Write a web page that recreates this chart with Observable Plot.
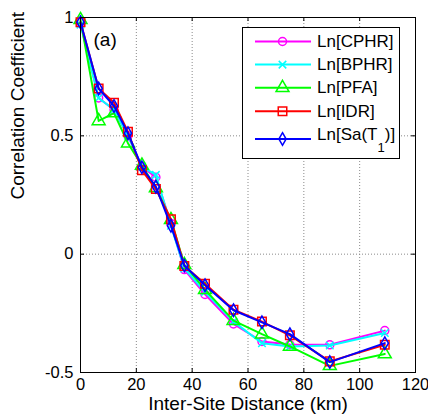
<!DOCTYPE html>
<html><head><meta charset="utf-8">
<script src="https://cdn.jsdelivr.net/npm/d3@7"></script>
<script src="https://cdn.jsdelivr.net/npm/@observablehq/plot@0.6"></script>
<style>
body{margin:0;background:#fff;}
#chart{width:428px;height:420px;}
</style>
</head><body><div id="chart"></div>
<script>
// ---- data ----
const distance = [0, 6.5, 12, 17, 22, 27, 32.4, 37.2, 44.6, 54.8, 65, 75, 89.3, 109];
const cphr = [0.98, 0.66, 0.61, 0.50, 0.37, 0.325, 0.13, -0.065, -0.17, -0.295, -0.369, -0.382, -0.383, -0.323];
const bphr = [0.97, 0.66, 0.61, 0.50, 0.37, 0.335, 0.12, -0.06, -0.16, -0.285, -0.376, -0.39, -0.386, -0.333];
const pfa  = [0.99, 0.563, 0.596, 0.469, 0.375, 0.28, 0.145, -0.045, -0.15, -0.281, -0.338, -0.39, -0.472, -0.422];
const idr  = [0.98, 0.70, 0.64, 0.517, 0.355, 0.275, 0.148, -0.05, -0.125, -0.235, -0.285, -0.343, -0.453, -0.383];
const sa   = [0.98, 0.70, 0.626, 0.511, 0.367, 0.285, 0.12, -0.048, -0.131, -0.237, -0.288, -0.338, -0.456, -0.376];
const seriesNames = ["Ln[CPHR]", "Ln[BPHR]", "Ln[PFA]", "Ln[IDR]", "Ln[Sa(T1)]"];
const seriesValues = [cphr, bphr, pfa, idr, sa];
const seriesColors = ["#ff00ff", "#00ffff", "#00ff00", "#ff0000", "#0000ff"];
const seriesSymbols = ["circle", "times", "triangle", "square", "diamond"];
const seriesR = [4, 3.5, 4.8, 4.8, 3.8];
const xTicks = [0, 20, 40, 60, 80, 100, 120];
const yTicks = [-0.5, 0, 0.5, 1];
const panelLabel = "(a)";
const xLabel = "Inter-Site Distance (km)";
const yLabel = "Correlation Coefficient";

// ---- layout ----
const W = 428, H = 420;
const mL = 80, mR = 13, mT = 17, mB = 48;
const innerW = W - mL - mR, innerH = H - mT - mB;
const tickLen = 4;
const font = "'Liberation Sans', Arial, Helvetica, sans-serif";

const series = seriesNames.map((name, k) => ({
  name, color: seriesColors[k], symbol: seriesSymbols[k], r: seriesR[k],
  rows: distance.map((x, i) => ({x, y: seriesValues[k][i]}))
}));

const marks = [
  Plot.gridX(xTicks, {stroke: "#8a8a8a", strokeOpacity: 1, strokeDasharray: "1,2"}),
  Plot.gridY(yTicks, {stroke: "#8a8a8a", strokeOpacity: 1, strokeDasharray: "1,2"}),
  Plot.tickX(xTicks, {x: d => d, insetTop: innerH - tickLen, stroke: "black"}),
  Plot.tickX(xTicks, {x: d => d, insetBottom: innerH - tickLen, stroke: "black"}),
  Plot.tickY(yTicks, {y: d => d, insetRight: innerW - tickLen, stroke: "black"}),
  Plot.tickY(yTicks, {y: d => d, insetLeft: innerW - tickLen, stroke: "black"}),
  Plot.axisX(xTicks, {tickSize: 0, tickPadding: 6, label: null, fontSize: 16.5, tickFormat: d => String(d)}),
  Plot.axisY(yTicks, {tickSize: 0, tickPadding: 7, label: null, fontSize: 16.5, tickFormat: d => String(d)}),
];
for (const s of series) {
  marks.push(Plot.line(s.rows, {x: "x", y: "y", stroke: s.color, strokeWidth: 2}));
  marks.push(Plot.dot(s.rows, {x: "x", y: "y", stroke: s.color, fill: "none", symbol: s.symbol, r: s.r, strokeWidth: 1.5}));
}
marks.push(Plot.frame({stroke: "black", strokeWidth: 1}));
marks.push(Plot.text([panelLabel], {frameAnchor: "top-left", dx: 13, dy: 15, textAnchor: "start", fontSize: 19}));
marks.push(Plot.text([xLabel], {frameAnchor: "bottom", dy: 37, fontSize: 19}));
marks.push(Plot.text([yLabel], {frameAnchor: "left", rotate: -90, dx: -63, dy: 4.5, fontSize: 19}));

const chart = Plot.plot({
  width: W, height: H,
  marginLeft: mL, marginRight: mR, marginTop: mT, marginBottom: mB,
  x: {domain: [0, 120]},
  y: {domain: [-0.5, 1]},
  style: {fontFamily: font, fontSize: "16.5px", background: "white", color: "black"},
  marks
});
document.getElementById("chart").appendChild(chart);

// ---- legend ----
const svg = d3.select(chart.tagName.toLowerCase() === "svg" ? chart : chart.querySelector("svg"));
const lg = svg.append("g").attr("font-family", font).attr("font-size", 17).attr("text-anchor", "start");
lg.append("rect").attr("x", 242.5).attr("y", 27.5).attr("width", 157).attr("height", 131)
  .attr("fill", "white").attr("stroke", "black");
const textBase = [46.8, 70, 93.3, 116.6, 139.8];
const lineY = [41.5, 64.6, 87.8, 111.2, 139];
const symMap = {circle: d3.symbolCircle, times: d3.symbolTimes, triangle: d3.symbolTriangle, square: d3.symbolSquare, diamond: d3.symbolDiamond};
series.forEach((s, k) => {
  const y = lineY[k];
  lg.append("line").attr("x1", 255).attr("x2", 311).attr("y1", y).attr("y2", y)
    .attr("stroke", s.color).attr("stroke-width", 2);
  lg.append("path").attr("transform", `translate(282.5,${y})`)
    .attr("d", d3.symbol(symMap[s.symbol], Math.PI * s.r * s.r)())
    .attr("fill", "none").attr("stroke", s.color).attr("stroke-width", 1.5);
  const t = lg.append("text").attr("x", 317).attr("y", textBase[k]).attr("fill", "black");
  const m = s.name.match(/^(.*\(T)(\d)(\).*)$/);
  if (m) {
    t.append("tspan").text(m[1]);
    t.append("tspan").attr("font-size", 13).attr("dy", 12).text(m[2]);
    t.append("tspan").attr("dy", -12).text(m[3]);
  } else {
    t.text(s.name);
  }
});
</script>
</body></html>
